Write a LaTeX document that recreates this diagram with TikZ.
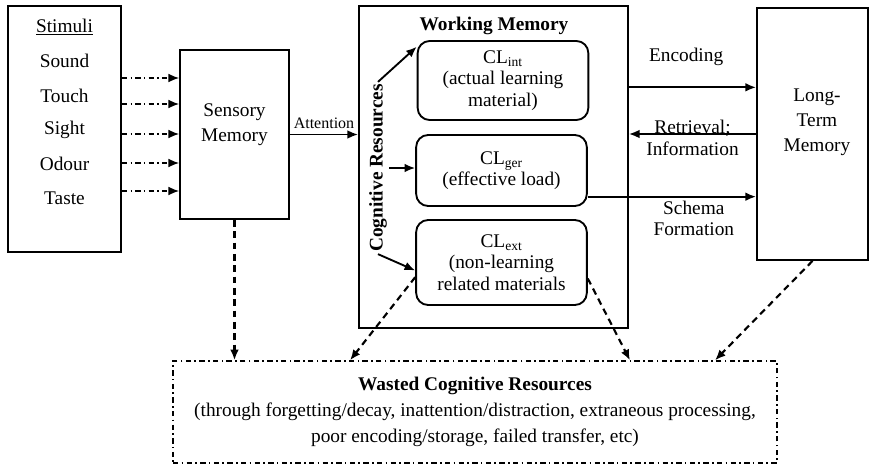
\documentclass[tikz,border=0pt]{standalone}
\usepackage{fontspec}
\setmainfont{Liberation Serif}
\usetikzlibrary{arrows.meta,positioning}

\begin{document}
\begin{tikzpicture}[x=0.75pt, y=-0.75pt, line width=1.4pt,
        every node/.style={font=\fontsize{14.5}{18.75}\selectfont, align=center},
        box/.style={draw, rectangle, inner sep=0pt},
        clbox/.style={draw, rounded corners=9pt, minimum width=128pt, inner sep=0pt,
            font=\fontsize{14.5}{16}\selectfont},
        arr/.style={-{Latex[length=8pt,width=6.5pt]}},
        stimarr/.style={-{Latex[length=8pt,width=6.5pt]}, line width=0.9pt,
            dash pattern=on 4pt off 2.5pt on 1pt off 2.5pt},
        lossarr/.style={-{Latex[length=8pt,width=6.5pt]}, line width=1.6pt,
            dash pattern=on 5pt off 3.5pt}]
        \useasboundingbox (0,0) rectangle (872,468);
        % Stimuli and sensory memory
        \node[box, minimum width=84.75pt, minimum height=184.5pt] (stim) at (64.5,129) {};
        \node (stimT) at (64.5,27) {\underline{Stimuli}};
        \foreach \s [count=\i] in {Sound,Touch,Sight,Odour,Taste}
            \node (s\i) at (64.5,27+34.2*\i) {\s};
        \node[box, minimum width=81.75pt, minimum height=126.75pt] (sens) at (234.5,134.5) {};
        \node (sensT) at (234.5,124.5) {Sensory\\Memory};
        \foreach \y in {78,104,134,163,191}
            \draw[stimarr] (stim.east |- 0,\y) -- (sens.west |- 0,\y);
        % Working memory with the three loads
        \node[box, minimum width=201.75pt, minimum height=241.5pt] (wm) at (493.5,167) {};
        \node (wmT) at (494,26) {\textbf{Working Memory}};
        \node[clbox, minimum height=59.25pt] (int) at (503,80.5) {CL\textsubscript{int}\\(actual learning\\material)};
        \node[clbox, minimum height=53.25pt] (ger) at (501.5,170.5) {CL\textsubscript{ger}\\(effective load)};
        \node[clbox, minimum height=63.75pt] (ext) at (501.5,262.5) {CL\textsubscript{ext}\\(non-learning\\related materials};
        \node[rotate=90, inner sep=1pt] (cogres) at (378,168) {\textbf{Cognitive Resources}};
        \draw[arr] (sens.east) -- node[above, font=\fontsize{12}{14}\selectfont] {Attention} (sens.east -| wm.west);
        \draw[arr] (cogres.east) -- ([yshift=-5pt]int.north west);
        \draw[arr] (cogres.south) -- (cogres.south -| ger.west);
        \draw[arr] (cogres.west) -- ([yshift=-6pt]ext.west);
        % Long-term memory
        \node[box, minimum width=83.25pt, minimum height=189pt] (ltm) at (812.5,134) {};
        \node (ltmT) at (817,122) {Long-\\Term\\Memory};
        \coordinate (ltmEnc) at ([yshift=35pt]ltm.west);
        \coordinate (ltmSch) at ([yshift=-47pt]ltm.west);
        \draw[arr] (ltmEnc -| wm.east) -- node[above=12pt, pos=0.45] {Encoding} (ltmEnc);
        \draw[arr] (ltm.west) -- node[yshift=-3pt, font=\fontsize{14.5}{16.5}\selectfont] {Retrieval;\\Information} (ltm.west -| wm.east);
        \draw[arr] (ltmSch -| ger.east) -- node[below=-1pt, pos=0.63, font=\fontsize{14.5}{16}\selectfont] {Schema\\Formation} (ltmSch);
        % Wasted resources
        \node[box, line width=1pt, dash pattern=on 4pt off 2.5pt on 1.2pt off 2.5pt,
            minimum width=453pt, minimum height=76.5pt, font=\fontsize{14.5}{19.5}\selectfont] (waste) at (475,412)
            {\textbf{Wasted Cognitive Resources}\\(through forgetting/decay, inattention/distraction, extraneous processing,\\poor encoding/storage, failed transfer, etc)};
        \coordinate (wExtL) at ([xshift=-93.75pt]waste.north);
        \coordinate (wExtR) at ([xshift=116.25pt]waste.north);
        \coordinate (wLtm) at ([xshift=180pt]waste.north);
        \draw[lossarr] (sens.south) -- (sens.south |- waste.north);
        \draw[lossarr] ([yshift=-11pt]ext.west) -- (wExtL);
        \draw[lossarr] ([yshift=-12pt]ext.east) -- (wExtR);
        \draw[lossarr] (ltm.south) -- (wLtm);
\end{tikzpicture}
\end{document}
